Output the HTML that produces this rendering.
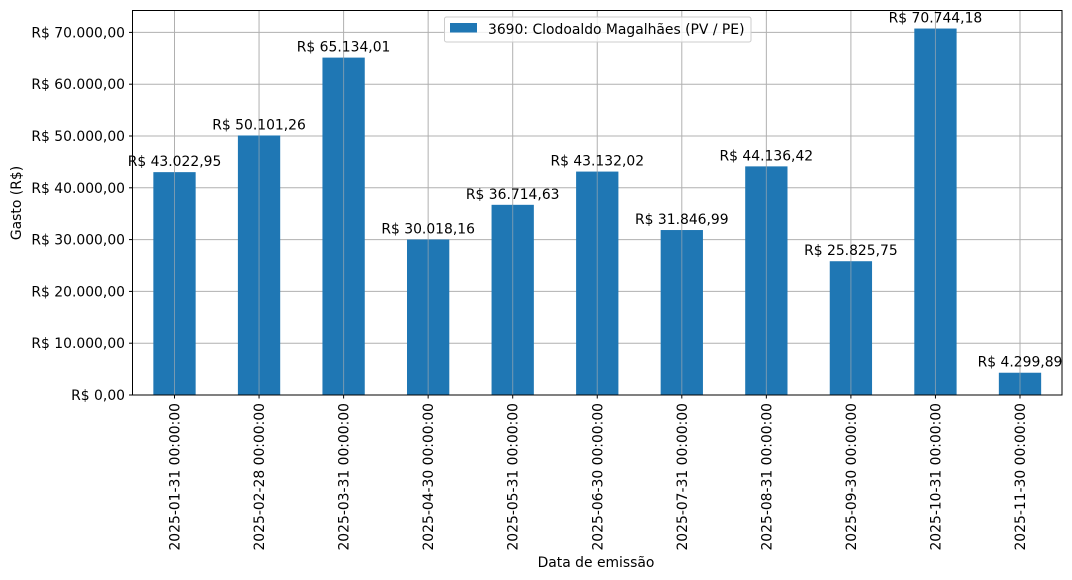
<!DOCTYPE html>
<html><head><meta charset="utf-8"><style>body{margin:0;background:#fff}svg{display:block;font-family:"DejaVu Sans","Liberation Sans",sans-serif}</style></head><body>
<svg width="1072" height="580" viewBox="0 0 1072 580" xmlns="http://www.w3.org/2000/svg">
<rect width="1072" height="580" fill="#fff"/>
<g id="grid" stroke="#b0b0b0" stroke-width="1"></g>
<g id="bars" fill="#1f77b4"></g>
<g id="grid2" stroke="#b0b0b0" stroke-width="1" opacity="0.6"></g>
<rect x="132.5" y="10.5" width="929.5" height="384.5" fill="none" stroke="#000" stroke-width="1"/>
<g id="ticks" font-size="13.9" fill="#000"></g>
<g id="labels" font-size="13.9" fill="#000" text-anchor="middle"></g>
<text x="596" y="567" font-size="13.9" text-anchor="middle">Data de emissão</text>
<text transform="translate(21,203) rotate(-90)" font-size="13.9" text-anchor="middle">Gasto (R$)</text>
<rect x="444.5" y="17" width="306.5" height="25" rx="2" fill="#fff" fill-opacity="0.8" stroke="#ccc"/>
<rect x="450" y="23" width="27" height="9.5" fill="#1f77b4"/>
<text x="488" y="34" font-size="13.9">3690: Clodoaldo Magalhães (PV / PE)</text>
<script>
var ns="http://www.w3.org/2000/svg";
function el(p,t,a,txt){var e=document.createElementNS(ns,t);for(var k in a)e.setAttribute(k,a[k]);if(txt)e.textContent=txt;document.getElementById(p).appendChild(e);return e;}
var vals=[43022.95,50101.26,65134.01,30018.16,36714.63,43132.02,31846.99,44136.42,25825.75,70744.18,4299.89];
var labs=["43.022,95","50.101,26","65.134,01","30.018,16","36.714,63","43.132,02","31.846,99","44.136,42","25.825,75","70.744,18","4.299,89"];
var dates=["2025-01-31","2025-02-28","2025-03-31","2025-04-30","2025-05-31","2025-06-30","2025-07-31","2025-08-31","2025-09-30","2025-10-31","2025-11-30"];
function Y(v){return 395-v/10000*51.8;}
for(var k=0;k<=7;k++){var y=Y(k*10000);
 el("grid","line",{x1:132.5,x2:1062,y1:y,y2:y});
 el("ticks","line",{x1:129,x2:132.5,y1:y,y2:y,stroke:"#000"});
 el("ticks","text",{x:125,y:y+5,"text-anchor":"end"},"R$ "+(k*10)+".000,00".replace(/^/,"").slice(k==0?4:0)); }
for(var i=0;i<11;i++){var c=174.5+84.55*i,y=Y(vals[i]);
 el("grid","line",{x1:c,x2:c,y1:10.5,y2:395});
 el("bars","rect",{x:c-21.15,y:y,width:42.3,height:395-y});
 el("grid2","line",{x1:c,x2:c,y1:y,y2:395});
 el("ticks","line",{x1:c,x2:c,y1:395,y2:398.5,stroke:"#000"});
 el("ticks","text",{transform:"translate("+(c+5)+",403) rotate(-90)","text-anchor":"end"},dates[i]+" 00:00:00");
 el("labels","text",{x:c,y:y-6},"R$ "+labs[i]);}
</script>
<script>
// fix y-axis label for zero
var t=document.querySelectorAll("#ticks text");
var names=["R$ 0,00","R$ 10.000,00","R$ 20.000,00","R$ 30.000,00","R$ 40.000,00","R$ 50.000,00","R$ 60.000,00","R$ 70.000,00"];
for(var k=0;k<8;k++)t[k].textContent=names[k];
</script>
</svg>
</body></html>
